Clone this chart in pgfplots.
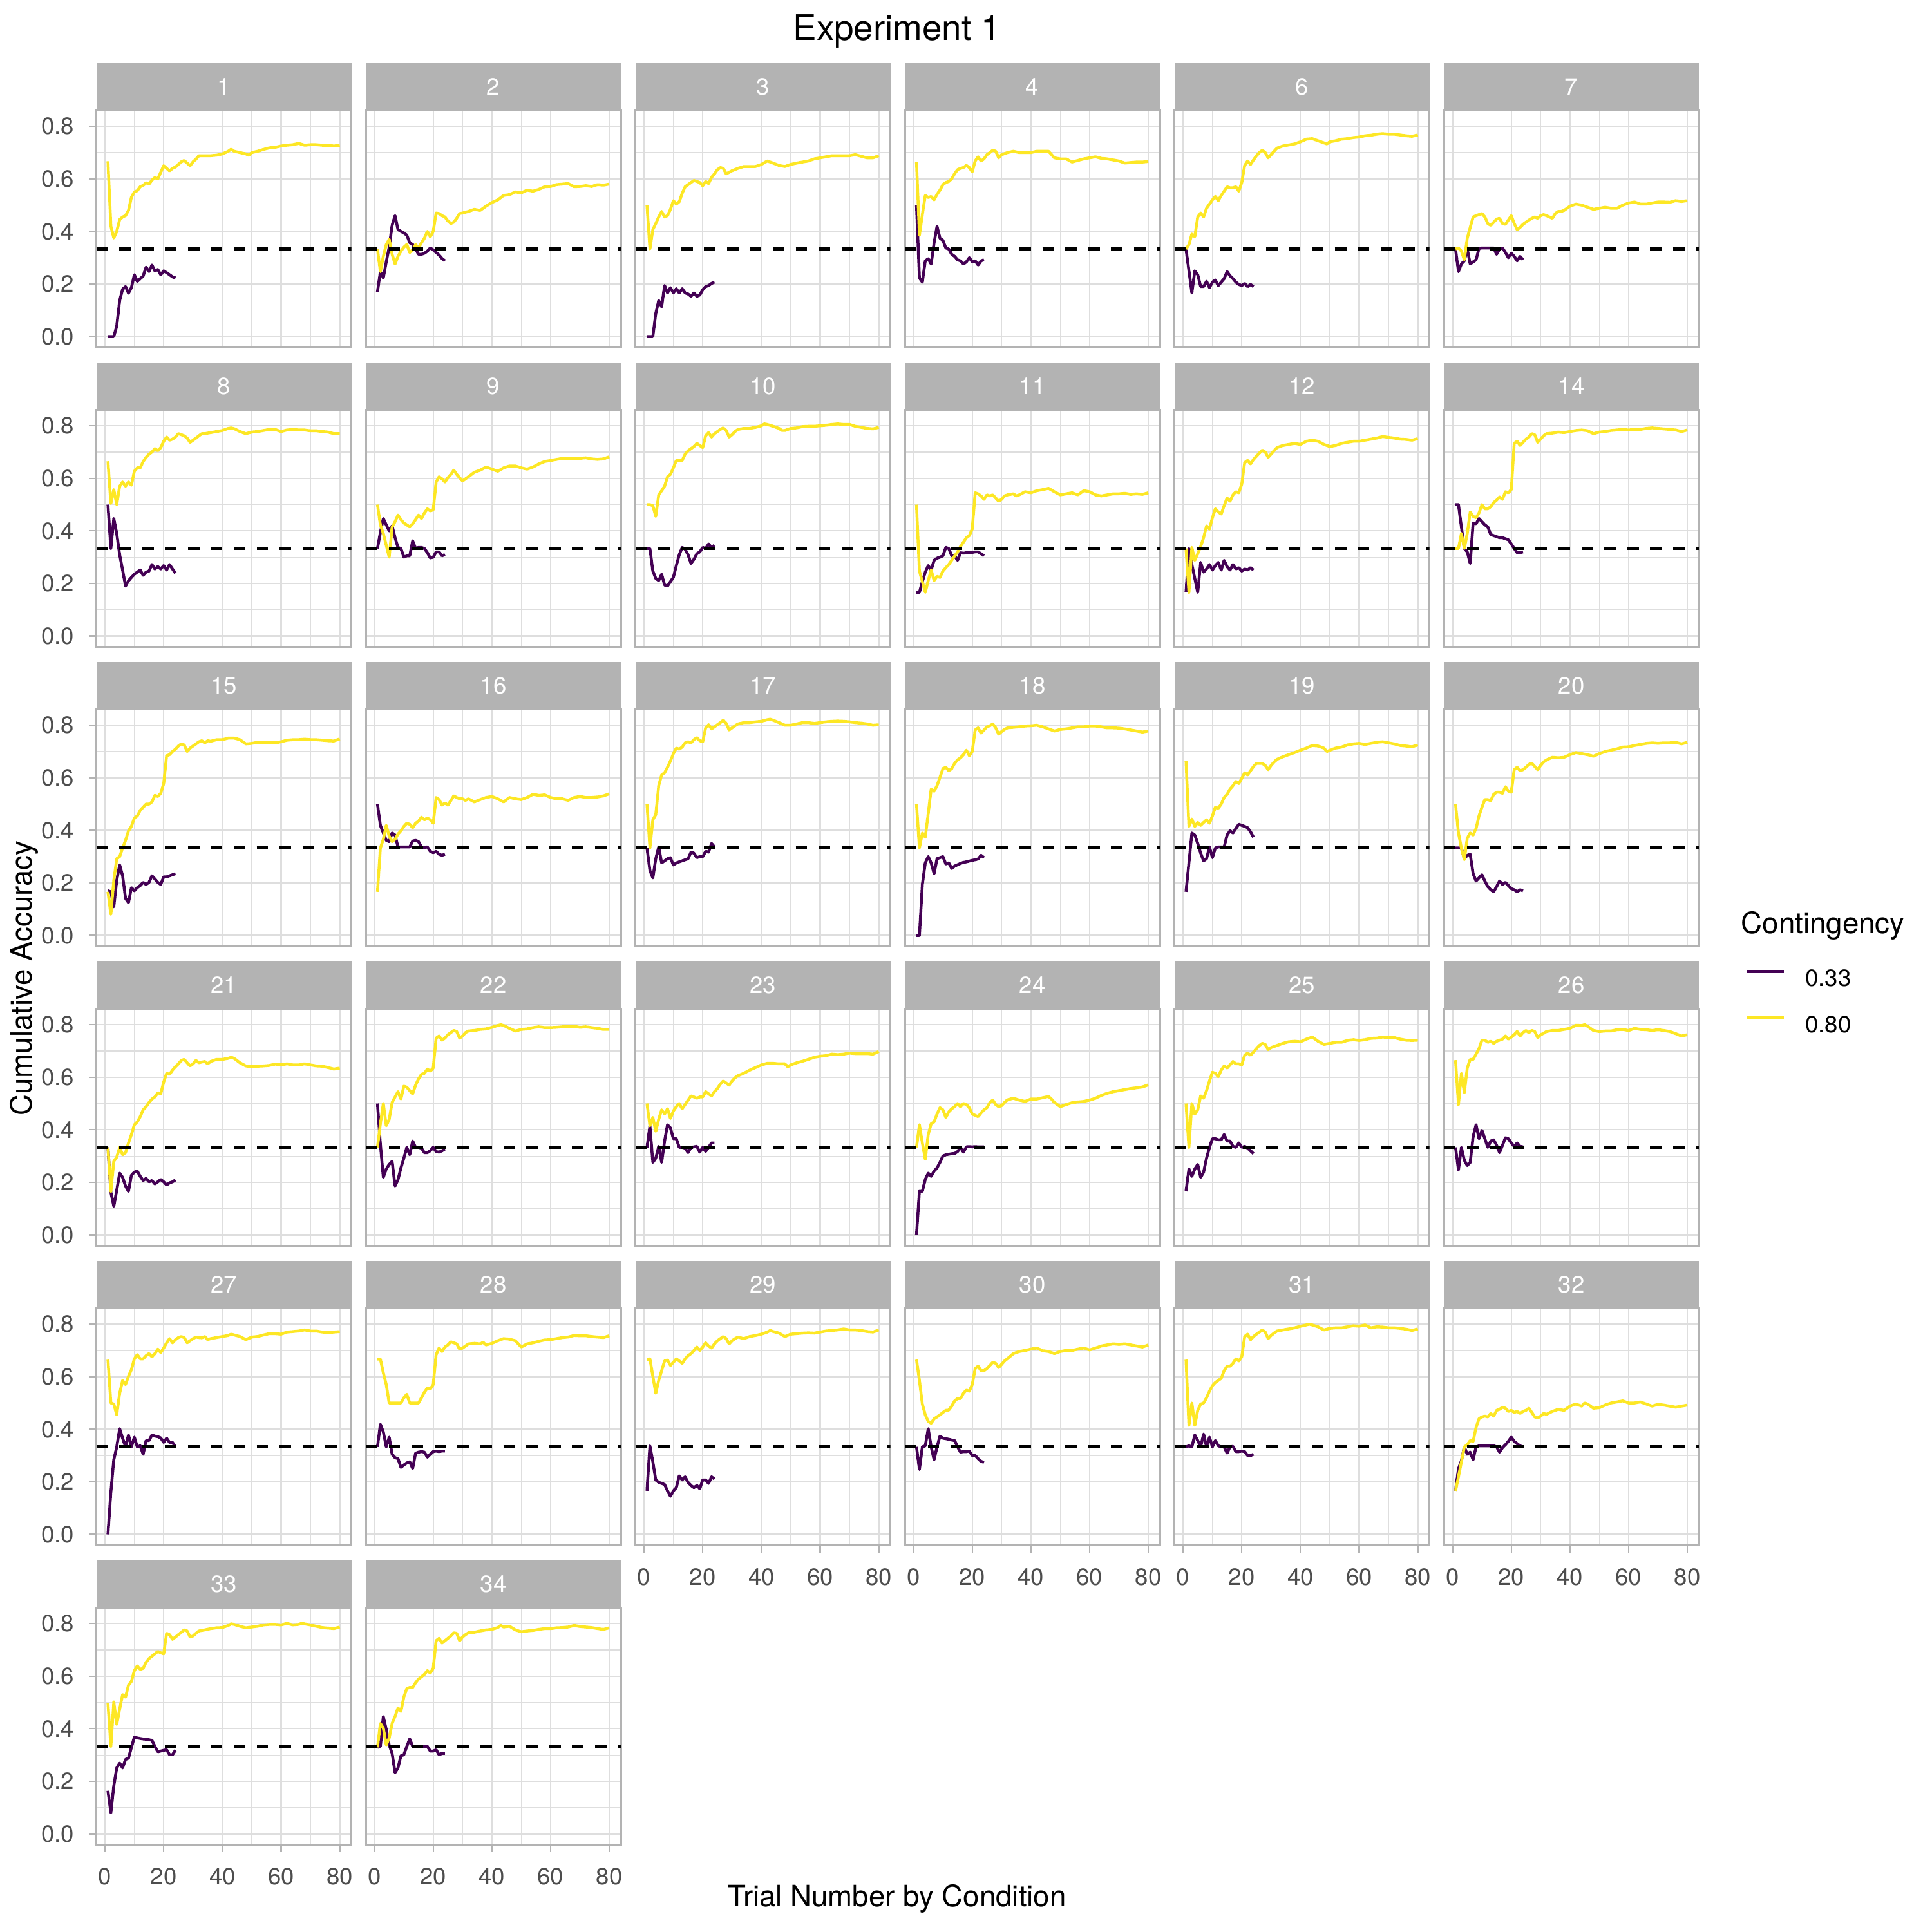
\documentclass[border=0pt]{standalone}
\usepackage{fontspec}
\setmainfont{TeX Gyre Heros}
\usepackage{pgfplots}
\pgfplotsset{compat=1.18}
\definecolor{vpurple}{HTML}{440154}
\definecolor{vyellow}{HTML}{FDE725}
\definecolor{grey70}{HTML}{B3B3B3}
\definecolor{grey87}{HTML}{DEDEDE}
\definecolor{grey30}{HTML}{4D4D4D}
\pgfplotsset{
 panel/.style={
  scale only axis, width=95.04bp, height=88.32bp, anchor=north west,
  xmin=-2.95, xmax=83.95, ymin=-0.041, ymax=0.861,
  xtick={0,20,40,60,80}, minor xtick={10,30,50,70},
  ytick={0,0.2,0.4,0.6,0.8}, minor ytick={0.1,0.3,0.5,0.7},
  xmajorgrids, ymajorgrids, xminorgrids, yminorgrids,
  major grid style={draw=grey87, line width=0.53bp},
  minor grid style={draw=grey87, line width=0.27bp},
  axis line style={draw=grey70, line width=0.8bp},
  tick align=outside, xtick pos=bottom, ytick pos=left,
  major tick length=2.74bp, minor tick length=0pt,
  tick style={draw=grey70, line width=0.53bp},
  tick label style={font=\fontsize{8.8}{10}\selectfont, text=grey30, inner sep=0pt},
  /pgf/number format/assume math mode=true,
  y tick label style={/pgf/number format/fixed, /pgf/number format/fixed zerofill, /pgf/number format/precision=1, anchor=east, xshift=-5.3bp},
  x tick label style={anchor=north, yshift=-5.8bp},
  every axis title/.style={at={(0.5,1)}, anchor=south, fill=grey70, text=white, minimum width=95.04bp, minimum height=17.52bp, inner sep=0pt, outer sep=0pt, font=\fontsize{8.8}{10}\selectfont},
 },
 nox/.style={xticklabels={}, xmajorticks=false},
 noy/.style={yticklabels={}, ymajorticks=false},
 pl/.style={color=vpurple, line width=1.07bp, line join=round},
 yl/.style={color=vyellow, line width=1.07bp, line join=round},
 dl/.style={black, line width=1.07bp, dash pattern=on 4.27bp off 4.27bp, forget plot},
 leg/.style={legend entries={0.33,0.80}, legend cell align=left,
   legend style={at={(1,0)}, anchor=west, xshift=17.28bp, yshift=-21.2bp, draw=none, fill=none, inner sep=0pt, row sep=9.6bp, column sep=7.4bp, font=\fontsize{8.8}{10}\selectfont, nodes={inner sep=0pt, text=black}}},
 legend image code/.code={\draw[#1, line width=1.1bp] (0bp,3.1bp) -- (13.7bp,3.1bp);},
}
\newcommand{\panel}[6]{%
 \begin{axis}[panel, at={(35.904bp+#1*100.44bp,678.888bp-#2*111.6bp)}, title={#3}, #4]
  \addplot[pl] coordinates {#5};
  \addplot[yl] coordinates {#6};
  \addplot[dl] coordinates {(-2.95,0.3333) (83.95,0.3333)};
 \end{axis}}
\begin{document}
\begin{tikzpicture}
\fill[white] (0,0) rectangle (720bp,720bp);
\path[use as bounding box] (0,0) rectangle (720bp,720bp);
% Row 0
\panel{0}{0}{1}{nox}{(1,0)(2,0)(3,0)(4,.04)(5,.137)(6,.18)(7,.19)(8,.165)(9,.186)(10,.235)(11,.21)(12,.22)(13,.23)(14,.264)(15,.247)(16,.272)(17,.25)(18,.255)(19,.235)(20,.25)(21,.243)(22,.235)(23,.227)(24,.223)}
{(1,.667)(2,.42)(3,.375)(4,.40)(5,.445)(6,.455)(7,.46)(8,.48)(9,.53)(10,.55)(11,.555)(12,.57)(13,.575)(14,.585)(15,.58)(16,.595)(17,.605)(18,.60)(19,.625)(20,.65)(21,.64)(22,.63)(23,.64)(24,.645)(25,.655)(26,.665)(27,.67)(28,.66)(29,.65)(30,.665)(31,.675)(32,.688)(34,.688)(36,.688)(38,.69)(40,.695)(42,.705)(43,.713)(44,.705)(46,.70)(48,.695)(49,.69)(50,.70)(52,.705)(54,.712)(56,.718)(58,.72)(60,.725)(62,.728)(64,.73)(66,.735)(68,.728)(70,.73)(72,.73)(74,.728)(76,.728)(78,.725)(80,.728)}
\panel{1}{0}{2}{nox,noy}{(1,.17)(2,.247)(3,.223)(4,.284)(5,.34)(6,.423)(7,.46)(8,.407)(9,.40)(10,.394)(11,.386)(12,.357)(13,.35)(14,.333)(15,.313)(16,.313)(17,.317)(18,.325)(19,.337)(20,.33)(21,.32)(22,.31)(23,.297)(24,.288)}
{(1,.333)(2,.247)(3,.305)(4,.35)(5,.37)(6,.313)(7,.276)(8,.305)(9,.325)(10,.34)(11,.35)(12,.32)(13,.33)(14,.35)(15,.337)(16,.357)(17,.374)(18,.40)(19,.38)(20,.40)(21,.47)(22,.468)(23,.46)(24,.455)(25,.44)(26,.43)(27,.435)(28,.45)(29,.468)(30,.47)(32,.476)(34,.484)(36,.48)(38,.496)(40,.51)(42,.52)(44,.537)(46,.54)(48,.55)(50,.547)(52,.557)(54,.553)(56,.56)(58,.57)(60,.571)(62,.578)(64,.58)(66,.582)(68,.57)(70,.571)(72,.574)(74,.571)(76,.578)(78,.576)(80,.58)}
\panel{2}{0}{3}{nox,noy}{(1,0)(2,0)(3,0)(4,.088)(5,.137)(6,.113)(7,.194)(8,.166)(9,.186)(10,.166)(11,.182)(12,.166)(13,.182)(14,.166)(15,.162)(16,.153)(17,.166)(18,.153)(19,.158)(20,.178)(21,.19)(22,.194)(23,.202)(24,.207)}
{(1,.50)(2,.333)(3,.407)(4,.43)(5,.455)(6,.476)(7,.455)(8,.46)(9,.484)(10,.517)(11,.504)(12,.513)(13,.545)(14,.57)(15,.578)(16,.586)(17,.594)(18,.59)(19,.586)(20,.574)(21,.59)(22,.582)(23,.606)(24,.619)(25,.635)(26,.643)(27,.64)(28,.619)(30,.631)(32,.64)(34,.647)(36,.647)(38,.647)(40,.655)(42,.668)(44,.66)(46,.651)(48,.647)(50,.655)(52,.66)(54,.664)(56,.668)(58,.676)(60,.68)(62,.684)(64,.688)(66,.688)(68,.688)(70,.688)(72,.692)(74,.686)(76,.68)(78,.68)(80,.688)}
\panel{3}{0}{4}{nox,noy}{(1,.50)(2,.223)(3,.207)(4,.288)(5,.296)(6,.276)(7,.357)(8,.419)(9,.374)(10,.366)(11,.337)(12,.333)(13,.313)(14,.305)(15,.292)(16,.288)(17,.276)(18,.284)(19,.30)(20,.284)(21,.288)(22,.272)(23,.288)(24,.292)}
{(1,.665)(2,.386)(3,.464)(4,.537)(5,.529)(6,.533)(7,.52)(8,.541)(9,.557)(10,.578)(11,.586)(12,.59)(13,.60)(14,.62)(15,.635)(16,.64)(17,.643)(18,.651)(19,.643)(20,.627)(21,.668)(22,.684)(23,.668)(24,.676)(25,.692)(26,.70)(27,.709)(28,.705)(29,.68)(30,.692)(32,.70)(34,.705)(36,.70)(38,.70)(40,.70)(42,.705)(44,.705)(46,.705)(48,.68)(50,.676)(52,.676)(54,.664)(56,.67)(58,.676)(60,.68)(62,.684)(64,.678)(66,.676)(68,.672)(70,.668)(72,.66)(74,.662)(76,.664)(78,.664)(80,.666)}
\panel{4}{0}{6}{nox,noy}{(1,.333)(2,.25)(3,.166)(4,.25)(5,.235)(6,.19)(7,.19)(8,.21)(9,.186)(10,.207)(11,.215)(12,.194)(13,.207)(14,.22)(15,.247)(16,.231)(17,.22)(18,.207)(19,.198)(20,.194)(21,.202)(22,.19)(23,.198)(24,.19)}
{(1,.333)(2,.35)(3,.39)(4,.38)(5,.455)(6,.47)(7,.455)(8,.488)(9,.504)(10,.52)(11,.533)(12,.517)(13,.537)(14,.553)(15,.57)(16,.566)(17,.566)(18,.57)(19,.553)(20,.586)(21,.651)(22,.668)(23,.655)(24,.672)(25,.688)(26,.70)(27,.709)(28,.70)(29,.68)(30,.692)(31,.705)(32,.717)(34,.725)(36,.729)(38,.733)(40,.741)(42,.751)(44,.753)(46,.745)(48,.737)(49,.733)(50,.741)(52,.745)(54,.751)(56,.753)(58,.757)(60,.759)(62,.764)(64,.766)(66,.77)(68,.772)(70,.77)(72,.77)(74,.767)(76,.764)(78,.762)(80,.767)}
\panel{5}{0}{7}{nox,noy}{(1,.333)(2,.247)(3,.276)(4,.288)(5,.333)(6,.276)(7,.284)(8,.292)(9,.335)(10,.337)(11,.337)(12,.337)(13,.337)(14,.337)(15,.313)(16,.333)(17,.337)(18,.32)(19,.30)(20,.317)(21,.305)(22,.288)(23,.305)(24,.292)}
{(1,.333)(2,.337)(3,.325)(4,.292)(5,.374)(6,.415)(7,.455)(8,.46)(9,.464)(10,.468)(11,.455)(12,.43)(13,.423)(14,.435)(15,.447)(16,.45)(17,.43)(18,.427)(19,.443)(20,.46)(21,.43)(22,.407)(23,.415)(24,.427)(25,.435)(26,.443)(27,.45)(28,.455)(29,.45)(30,.46)(31,.464)(32,.46)(33,.455)(34,.45)(35,.468)(36,.476)(37,.476)(38,.48)(39,.488)(40,.496)(42,.504)(44,.50)(46,.492)(48,.484)(50,.488)(52,.492)(54,.488)(56,.488)(58,.50)(60,.508)(62,.512)(64,.504)(66,.504)(68,.508)(70,.512)(72,.512)(74,.511)(76,.517)(78,.514)(80,.517)}
% Row 1
\panel{0}{1}{8}{nox}{(1,.50)(2,.333)(3,.447)(4,.39)(5,.309)(6,.251)(7,.19)(8,.21)(9,.223)(10,.235)(11,.243)(12,.251)(13,.231)(14,.243)(15,.247)(16,.272)(17,.255)(18,.264)(19,.255)(20,.268)(21,.251)(22,.272)(23,.255)(24,.239)}
{(1,.665)(2,.504)(3,.557)(4,.50)(5,.57)(6,.586)(7,.57)(8,.586)(9,.574)(10,.627)(11,.64)(12,.64)(13,.664)(14,.68)(15,.692)(16,.70)(17,.713)(18,.705)(19,.717)(20,.741)(21,.757)(22,.745)(23,.749)(24,.757)(25,.77)(26,.766)(27,.762)(28,.753)(29,.737)(30,.745)(31,.753)(32,.762)(33,.77)(34,.77)(36,.774)(38,.778)(40,.782)(42,.79)(43,.792)(44,.789)(46,.778)(48,.77)(50,.776)(52,.778)(54,.782)(56,.786)(58,.786)(60,.778)(62,.784)(64,.786)(66,.784)(68,.784)(70,.781)(72,.781)(74,.778)(76,.776)(78,.77)(80,.77)}
\panel{1}{1}{9}{nox,noy}{(1,.333)(2,.394)(3,.447)(4,.423)(5,.40)(6,.419)(7,.374)(8,.337)(9,.333)(10,.30)(11,.305)(12,.305)(13,.362)(14,.333)(15,.337)(16,.337)(17,.333)(18,.317)(19,.297)(20,.30)(21,.32)(22,.32)(23,.305)(24,.31)}
{(1,.50)(2,.423)(3,.39)(4,.345)(5,.30)(6,.415)(7,.435)(8,.46)(9,.443)(10,.43)(11,.423)(12,.415)(13,.427)(14,.443)(15,.46)(16,.447)(17,.468)(18,.484)(19,.476)(20,.48)(21,.586)(22,.606)(23,.598)(24,.586)(25,.602)(26,.615)(27,.631)(28,.615)(29,.602)(30,.59)(31,.598)(32,.606)(34,.623)(36,.631)(38,.643)(40,.635)(42,.627)(44,.64)(46,.647)(48,.647)(50,.64)(52,.635)(54,.643)(56,.655)(58,.664)(60,.668)(62,.672)(64,.676)(66,.676)(68,.676)(70,.676)(72,.678)(74,.674)(76,.672)(78,.674)(80,.682)}
\panel{2}{1}{10}{nox,noy}{(1,.333)(2,.333)(3,.247)(4,.219)(5,.211)(6,.235)(7,.194)(8,.19)(9,.207)(10,.223)(11,.268)(12,.309)(13,.337)(14,.33)(15,.309)(16,.276)(17,.292)(18,.313)(19,.32)(20,.337)(21,.333)(22,.35)(23,.337)(24,.345)}
{(1,.50)(2,.50)(3,.496)(4,.455)(5,.537)(6,.553)(7,.57)(8,.606)(9,.615)(10,.64)(11,.668)(12,.668)(13,.668)(14,.692)(15,.705)(16,.713)(17,.721)(18,.733)(19,.725)(20,.717)(21,.762)(22,.774)(23,.757)(24,.77)(25,.778)(26,.786)(27,.792)(28,.782)(29,.757)(30,.766)(31,.778)(32,.786)(34,.79)(36,.79)(38,.794)(40,.80)(41,.807)(42,.805)(44,.798)(46,.79)(47,.782)(48,.782)(50,.79)(52,.792)(54,.797)(56,.798)(58,.798)(60,.80)(62,.802)(64,.805)(66,.807)(68,.805)(70,.805)(72,.798)(74,.794)(76,.79)(78,.788)(80,.794)}
\panel{3}{1}{11}{nox,noy}{(1,.166)(2,.166)(3,.207)(4,.243)(5,.268)(6,.251)(7,.288)(8,.296)(9,.30)(10,.305)(11,.337)(12,.333)(13,.305)(14,.305)(15,.288)(16,.317)(17,.315)(18,.317)(19,.317)(20,.318)(21,.32)(22,.32)(23,.313)(24,.305)}
{(1,.50)(2,.247)(3,.207)(4,.166)(5,.211)(6,.251)(7,.211)(8,.227)(9,.223)(10,.247)(11,.26)(12,.272)(13,.288)(14,.305)(15,.32)(16,.341)(17,.357)(18,.374)(19,.382)(20,.407)(21,.545)(22,.541)(23,.533)(24,.52)(25,.537)(26,.533)(27,.537)(28,.525)(29,.513)(30,.52)(31,.533)(32,.537)(34,.541)(35,.533)(36,.537)(38,.549)(40,.545)(42,.553)(44,.557)(46,.562)(48,.549)(50,.537)(52,.541)(54,.545)(56,.537)(58,.553)(60,.549)(62,.537)(64,.533)(66,.537)(68,.541)(70,.541)(72,.543)(74,.539)(76,.541)(78,.539)(80,.545)}
\panel{4}{1}{12}{nox,noy}{(1,.166)(2,.333)(3,.272)(4,.219)(5,.166)(6,.28)(7,.243)(8,.255)(9,.272)(10,.251)(11,.268)(12,.28)(13,.251)(14,.288)(15,.264)(16,.251)(17,.272)(18,.255)(19,.26)(20,.247)(21,.255)(22,.251)(23,.26)(24,.251)}
{(1,.333)(2,.166)(3,.337)(4,.288)(5,.313)(6,.341)(7,.374)(8,.419)(9,.407)(10,.45)(11,.484)(12,.472)(13,.464)(14,.496)(15,.525)(16,.513)(17,.537)(18,.549)(19,.545)(20,.578)(21,.66)(22,.668)(23,.655)(24,.672)(25,.684)(26,.696)(27,.707)(28,.70)(29,.68)(30,.692)(31,.705)(32,.717)(34,.725)(36,.729)(38,.733)(40,.729)(42,.741)(44,.745)(46,.741)(48,.729)(50,.721)(52,.725)(54,.733)(56,.737)(58,.741)(60,.741)(62,.745)(64,.749)(66,.753)(68,.759)(70,.756)(72,.753)(74,.749)(76,.748)(78,.745)(80,.751)}
\panel{5}{1}{14}{nox,noy}{(1,.50)(2,.50)(3,.415)(4,.333)(5,.32)(6,.276)(7,.43)(8,.427)(9,.447)(10,.435)(11,.423)(12,.415)(13,.386)(14,.382)(15,.378)(16,.374)(17,.374)(18,.37)(19,.366)(20,.35)(21,.333)(22,.317)(23,.317)(24,.32)}
{(1,.333)(2,.333)(3,.39)(4,.333)(5,.39)(6,.472)(7,.455)(8,.45)(9,.468)(10,.50)(11,.484)(12,.484)(13,.492)(14,.508)(15,.517)(16,.529)(17,.52)(18,.549)(19,.545)(20,.557)(21,.733)(22,.741)(23,.725)(24,.737)(25,.749)(26,.757)(27,.77)(28,.766)(29,.737)(30,.749)(31,.762)(32,.77)(34,.772)(36,.776)(38,.774)(40,.778)(42,.782)(44,.784)(46,.781)(48,.77)(50,.776)(52,.778)(54,.782)(56,.784)(58,.786)(60,.784)(62,.786)(64,.786)(66,.79)(68,.792)(70,.79)(72,.788)(74,.786)(76,.784)(78,.778)(80,.784)}
% Row 2
\panel{0}{2}{15}{nox}{(1,.17)(2,.166)(3,.109)(4,.21)(5,.268)(6,.227)(7,.141)(8,.125)(9,.182)(10,.17)(11,.182)(12,.19)(13,.202)(14,.194)(15,.202)(16,.227)(17,.215)(18,.202)(19,.194)(20,.223)(21,.223)(22,.227)(23,.231)(24,.235)}
{(1,.166)(2,.08)(3,.21)(4,.292)(5,.30)(6,.333)(7,.362)(8,.398)(9,.415)(10,.447)(11,.455)(12,.476)(13,.488)(14,.50)(15,.50)(16,.508)(17,.533)(18,.529)(19,.541)(20,.578)(21,.684)(22,.688)(23,.70)(24,.709)(25,.721)(26,.729)(27,.725)(28,.70)(29,.713)(30,.721)(31,.729)(32,.737)(33,.741)(34,.733)(35,.741)(36,.739)(38,.745)(40,.745)(42,.751)(44,.751)(46,.745)(48,.729)(50,.731)(52,.735)(54,.735)(56,.735)(58,.733)(60,.737)(62,.743)(64,.745)(66,.745)(68,.747)(70,.745)(72,.745)(74,.743)(76,.741)(78,.74)(80,.748)}
\panel{1}{2}{16}{nox,noy}{(1,.50)(2,.419)(3,.39)(4,.362)(5,.357)(6,.39)(7,.382)(8,.337)(9,.337)(10,.337)(11,.337)(12,.337)(13,.359)(14,.362)(15,.357)(16,.337)(17,.335)(18,.337)(19,.32)(20,.315)(21,.32)(22,.309)(23,.305)(24,.309)}
{(1,.166)(2,.333)(3,.366)(4,.419)(5,.378)(6,.357)(7,.366)(8,.386)(9,.398)(10,.415)(11,.427)(12,.423)(13,.41)(14,.427)(15,.435)(16,.45)(17,.44)(18,.447)(19,.44)(20,.427)(21,.525)(22,.517)(23,.496)(24,.504)(25,.496)(26,.513)(27,.531)(28,.525)(29,.52)(30,.52)(31,.514)(32,.52)(34,.508)(36,.517)(38,.525)(40,.529)(42,.52)(44,.508)(46,.525)(48,.52)(50,.517)(52,.525)(54,.537)(56,.533)(58,.535)(60,.525)(62,.52)(64,.52)(66,.514)(68,.525)(70,.529)(72,.525)(74,.525)(76,.527)(78,.531)(80,.539)}
\panel{2}{2}{17}{nox,noy}{(1,.333)(2,.247)(3,.219)(4,.292)(5,.337)(6,.276)(7,.284)(8,.292)(9,.296)(10,.268)(11,.276)(12,.28)(13,.284)(14,.288)(15,.292)(16,.317)(17,.313)(18,.296)(19,.30)(20,.30)(21,.32)(22,.317)(23,.35)(24,.337)}
{(1,.50)(2,.333)(3,.44)(4,.46)(5,.57)(6,.611)(7,.619)(8,.64)(9,.664)(10,.692)(11,.713)(12,.709)(13,.717)(14,.733)(15,.737)(16,.733)(17,.745)(18,.753)(19,.741)(20,.737)(21,.79)(22,.802)(23,.786)(24,.794)(25,.802)(26,.81)(27,.819)(28,.807)(29,.782)(30,.79)(31,.798)(32,.805)(34,.81)(36,.81)(38,.813)(40,.815)(42,.821)(43,.823)(44,.819)(46,.81)(48,.80)(50,.80)(52,.805)(54,.81)(56,.81)(58,.807)(60,.81)(62,.813)(64,.815)(66,.816)(68,.815)(70,.813)(72,.81)(74,.808)(76,.805)(78,.80)(80,.802)}
\panel{3}{2}{18}{nox,noy}{(1,0)(2,0)(3,.194)(4,.276)(5,.30)(6,.276)(7,.235)(8,.292)(9,.296)(10,.30)(11,.272)(12,.276)(13,.255)(14,.264)(15,.269)(16,.274)(17,.278)(18,.28)(19,.283)(20,.286)(21,.288)(22,.291)(23,.305)(24,.296)}
{(1,.50)(2,.333)(3,.39)(4,.374)(5,.464)(6,.557)(7,.549)(8,.57)(9,.602)(10,.635)(11,.64)(12,.627)(13,.635)(14,.655)(15,.668)(16,.676)(17,.688)(18,.705)(19,.684)(20,.70)(21,.782)(22,.79)(23,.77)(24,.782)(25,.794)(26,.798)(27,.805)(28,.79)(29,.766)(30,.776)(31,.784)(32,.79)(34,.792)(36,.794)(38,.797)(40,.798)(42,.80)(44,.794)(46,.786)(48,.778)(50,.784)(52,.786)(54,.79)(56,.794)(58,.794)(60,.797)(62,.797)(64,.794)(66,.79)(68,.79)(70,.789)(72,.786)(74,.782)(76,.778)(78,.774)(80,.778)}
\panel{4}{2}{19}{nox,noy}{(1,.166)(2,.276)(3,.39)(4,.382)(5,.35)(6,.313)(7,.284)(8,.292)(9,.337)(10,.296)(11,.333)(12,.337)(13,.337)(14,.337)(15,.382)(16,.398)(17,.39)(18,.407)(19,.423)(20,.419)(21,.415)(22,.41)(23,.394)(24,.374)}
{(1,.665)(2,.415)(3,.443)(4,.415)(5,.43)(6,.419)(7,.43)(8,.44)(9,.427)(10,.455)(11,.488)(12,.484)(13,.50)(14,.525)(15,.537)(16,.557)(17,.57)(18,.586)(19,.578)(20,.598)(21,.619)(22,.611)(23,.627)(24,.643)(25,.655)(26,.655)(27,.655)(28,.647)(29,.631)(30,.647)(31,.66)(32,.67)(34,.68)(36,.688)(38,.696)(40,.705)(42,.713)(44,.723)(46,.721)(48,.713)(49,.70)(50,.705)(52,.713)(54,.717)(56,.725)(58,.729)(60,.731)(62,.727)(64,.731)(66,.735)(68,.737)(70,.733)(72,.729)(74,.723)(76,.721)(78,.718)(80,.725)}
\panel{5}{2}{20}{nox,noy,leg}{(1,.333)(2,.333)(3,.333)(4,.292)(5,.305)(6,.309)(7,.235)(8,.207)(9,.219)(10,.231)(11,.207)(12,.186)(13,.174)(14,.166)(15,.186)(16,.207)(17,.194)(18,.202)(19,.19)(20,.178)(21,.174)(22,.166)(23,.174)(24,.17)}
{(1,.50)(2,.39)(3,.333)(4,.288)(5,.37)(6,.39)(7,.382)(8,.407)(9,.455)(10,.488)(11,.517)(12,.517)(13,.513)(14,.537)(15,.545)(16,.545)(17,.541)(18,.566)(19,.549)(20,.545)(21,.631)(22,.64)(23,.627)(24,.631)(25,.64)(26,.651)(27,.655)(28,.643)(29,.631)(30,.647)(31,.66)(32,.668)(34,.678)(36,.676)(38,.678)(40,.688)(42,.696)(44,.692)(46,.688)(48,.682)(50,.692)(52,.70)(54,.705)(56,.71)(58,.717)(60,.718)(62,.723)(64,.727)(66,.731)(68,.733)(70,.731)(72,.733)(74,.733)(76,.735)(78,.729)(80,.735)}
% Row 3
\panel{0}{3}{21}{nox}{(1,.333)(2,.162)(3,.109)(4,.17)(5,.235)(6,.219)(7,.186)(8,.166)(9,.227)(10,.239)(11,.243)(12,.223)(13,.207)(14,.215)(15,.202)(16,.207)(17,.194)(18,.202)(19,.211)(20,.202)(21,.19)(22,.198)(23,.202)(24,.209)}
{(1,.333)(2,.166)(3,.28)(4,.296)(5,.333)(6,.305)(7,.313)(8,.35)(9,.382)(10,.419)(11,.43)(12,.45)(13,.476)(14,.488)(15,.504)(16,.517)(17,.525)(18,.541)(19,.537)(20,.582)(21,.615)(22,.611)(23,.627)(24,.64)(25,.651)(26,.664)(27,.668)(28,.655)(29,.643)(30,.651)(31,.664)(32,.655)(33,.658)(34,.66)(35,.651)(36,.66)(38,.668)(40,.668)(42,.672)(43,.676)(44,.672)(46,.655)(48,.643)(50,.64)(52,.642)(54,.643)(56,.645)(58,.65)(60,.647)(62,.651)(64,.647)(66,.647)(68,.651)(70,.647)(72,.643)(74,.642)(76,.637)(78,.631)(80,.635)}
\panel{1}{3}{22}{nox,noy}{(1,.50)(2,.345)(3,.219)(4,.251)(5,.268)(6,.28)(7,.186)(8,.21)(9,.255)(10,.292)(11,.333)(12,.305)(13,.357)(14,.333)(15,.333)(16,.33)(17,.313)(18,.313)(19,.32)(20,.333)(21,.317)(22,.315)(23,.32)(24,.327)}
{(1,.333)(2,.423)(3,.50)(4,.415)(5,.44)(6,.504)(7,.525)(8,.545)(9,.517)(10,.566)(11,.562)(12,.549)(13,.537)(14,.57)(15,.594)(16,.611)(17,.615)(18,.631)(19,.623)(20,.635)(21,.749)(22,.757)(23,.741)(24,.749)(25,.762)(26,.77)(27,.778)(28,.774)(29,.749)(30,.757)(31,.77)(32,.776)(34,.778)(36,.782)(38,.784)(40,.79)(42,.797)(43,.80)(44,.797)(46,.786)(48,.776)(50,.782)(52,.784)(54,.789)(56,.792)(58,.789)(60,.789)(62,.79)(64,.792)(66,.794)(68,.794)(70,.79)(72,.792)(74,.789)(76,.786)(78,.782)(80,.782)}
\panel{2}{3}{23}{nox,noy}{(1,.333)(2,.415)(3,.276)(4,.292)(5,.337)(6,.276)(7,.357)(8,.419)(9,.407)(10,.366)(11,.366)(12,.333)(13,.333)(14,.33)(15,.313)(16,.333)(17,.335)(18,.337)(19,.315)(20,.333)(21,.318)(22,.333)(23,.35)(24,.35)}
{(1,.50)(2,.415)(3,.447)(4,.394)(5,.44)(6,.476)(7,.46)(8,.48)(9,.443)(10,.472)(11,.488)(12,.50)(13,.48)(14,.496)(15,.513)(16,.529)(17,.525)(18,.52)(19,.525)(20,.525)(21,.545)(22,.537)(23,.529)(24,.545)(25,.557)(26,.574)(27,.586)(28,.578)(29,.57)(30,.586)(31,.598)(32,.606)(34,.615)(36,.627)(38,.637)(40,.647)(42,.653)(44,.653)(46,.651)(48,.651)(49,.64)(50,.647)(52,.655)(54,.661)(56,.668)(58,.676)(60,.68)(62,.682)(64,.688)(66,.686)(68,.688)(70,.692)(72,.69)(74,.69)(76,.69)(78,.688)(80,.698)}
\panel{3}{3}{24}{nox,noy}{(1,0)(2,.166)(3,.166)(4,.211)(5,.235)(6,.223)(7,.243)(8,.255)(9,.276)(10,.30)(11,.305)(12,.307)(13,.309)(14,.31)(15,.317)(16,.333)(17,.315)(18,.335)(19,.336)(20,.335)(21,.336)(22,.335)(23,.335)(24,.335)}
{(1,.333)(2,.419)(3,.35)(4,.288)(5,.382)(6,.423)(7,.43)(8,.46)(9,.484)(10,.476)(11,.447)(12,.468)(13,.48)(14,.488)(15,.50)(16,.488)(17,.50)(18,.496)(19,.484)(20,.46)(21,.455)(22,.45)(23,.464)(24,.476)(25,.484)(26,.504)(27,.513)(28,.496)(29,.488)(30,.492)(31,.504)(32,.514)(34,.52)(36,.513)(38,.508)(40,.517)(42,.517)(44,.522)(46,.527)(47,.517)(48,.504)(50,.488)(52,.496)(54,.503)(56,.506)(58,.508)(60,.513)(62,.52)(64,.531)(66,.539)(68,.545)(70,.549)(72,.553)(74,.557)(76,.56)(78,.563)(80,.571)}
\panel{4}{3}{25}{nox,noy}{(1,.166)(2,.251)(3,.223)(4,.251)(5,.268)(6,.219)(7,.239)(8,.292)(9,.333)(10,.366)(11,.366)(12,.362)(13,.362)(14,.382)(15,.357)(16,.357)(17,.337)(18,.333)(19,.35)(20,.333)(21,.337)(22,.33)(23,.32)(24,.309)}
{(1,.50)(2,.333)(3,.50)(4,.46)(5,.476)(6,.529)(7,.52)(8,.549)(9,.586)(10,.619)(11,.615)(12,.602)(13,.627)(14,.643)(15,.635)(16,.647)(17,.66)(18,.651)(19,.651)(20,.647)(21,.684)(22,.692)(23,.684)(24,.696)(25,.709)(26,.721)(27,.729)(28,.725)(29,.705)(30,.713)(31,.717)(32,.721)(34,.729)(36,.735)(38,.737)(40,.735)(42,.745)(44,.753)(46,.737)(48,.725)(50,.729)(52,.733)(54,.733)(56,.74)(58,.743)(60,.74)(62,.743)(64,.748)(66,.749)(68,.753)(70,.751)(72,.751)(74,.745)(76,.741)(78,.74)(80,.741)}
\panel{5}{3}{26}{nox,noy}{(1,.333)(2,.247)(3,.333)(4,.284)(5,.264)(6,.276)(7,.374)(8,.419)(9,.366)(10,.398)(11,.366)(12,.333)(13,.357)(14,.362)(15,.341)(16,.313)(17,.341)(18,.37)(19,.366)(20,.35)(21,.337)(22,.35)(23,.337)(24,.335)}
{(1,.665)(2,.496)(3,.615)(4,.541)(5,.635)(6,.668)(7,.668)(8,.688)(9,.709)(10,.741)(11,.741)(12,.733)(13,.737)(14,.729)(15,.737)(16,.741)(17,.745)(18,.757)(19,.745)(20,.753)(21,.762)(22,.774)(23,.757)(24,.77)(25,.778)(26,.77)(27,.778)(28,.774)(29,.751)(30,.762)(31,.767)(32,.774)(34,.778)(36,.778)(38,.782)(40,.786)(42,.798)(44,.797)(45,.80)(46,.794)(48,.778)(50,.774)(52,.776)(54,.776)(56,.781)(58,.782)(60,.778)(62,.786)(64,.782)(66,.781)(68,.778)(70,.781)(72,.778)(74,.774)(76,.766)(78,.757)(80,.762)}
% Row 4
\panel{0}{4}{27}{nox}{(1,0)(2,.162)(3,.284)(4,.333)(5,.402)(6,.366)(7,.333)(8,.378)(9,.333)(10,.37)(11,.333)(12,.337)(13,.305)(14,.357)(15,.357)(16,.378)(17,.374)(18,.372)(19,.367)(20,.35)(21,.366)(22,.35)(23,.35)(24,.333)}
{(1,.665)(2,.50)(3,.496)(4,.455)(5,.537)(6,.586)(7,.57)(8,.602)(9,.627)(10,.668)(11,.684)(12,.668)(13,.668)(14,.68)(15,.688)(16,.676)(17,.688)(18,.705)(19,.692)(20,.709)(21,.729)(22,.745)(23,.729)(24,.741)(25,.749)(26,.753)(27,.749)(28,.729)(29,.737)(30,.745)(31,.751)(32,.749)(33,.748)(34,.753)(35,.741)(36,.745)(38,.749)(40,.753)(42,.757)(43,.762)(44,.759)(46,.753)(48,.741)(50,.751)(52,.753)(54,.759)(56,.764)(58,.764)(60,.762)(62,.77)(64,.772)(66,.774)(68,.778)(70,.774)(72,.774)(74,.77)(76,.768)(78,.77)(80,.772)}
\panel{1}{4}{28}{nox,noy}{(1,.333)(2,.419)(3,.39)(4,.333)(5,.37)(6,.305)(7,.292)(8,.288)(9,.255)(10,.264)(11,.272)(12,.276)(13,.251)(14,.309)(15,.313)(16,.315)(17,.313)(18,.294)(19,.305)(20,.315)(21,.317)(22,.315)(23,.317)(24,.317)}
{(1,.667)(2,.667)(3,.615)(4,.57)(5,.50)(6,.50)(7,.50)(8,.50)(9,.50)(10,.52)(11,.533)(12,.50)(13,.50)(14,.50)(15,.50)(16,.52)(17,.541)(18,.557)(19,.553)(20,.57)(21,.684)(22,.709)(23,.696)(24,.713)(25,.721)(26,.733)(27,.729)(28,.725)(29,.705)(30,.709)(31,.717)(32,.725)(34,.727)(36,.725)(37,.731)(38,.721)(40,.727)(42,.737)(44,.745)(46,.743)(48,.737)(50,.713)(52,.725)(54,.729)(56,.735)(58,.74)(60,.741)(62,.745)(64,.749)(66,.751)(68,.757)(70,.756)(72,.756)(74,.753)(76,.751)(78,.749)(80,.756)}
\panel{2}{4}{29}{noy}{(1,.166)(2,.337)(3,.276)(4,.207)(5,.198)(6,.194)(7,.19)(8,.166)(9,.145)(10,.166)(11,.178)(12,.223)(13,.207)(14,.219)(15,.198)(16,.186)(17,.178)(18,.186)(19,.174)(20,.207)(21,.207)(22,.194)(23,.219)(24,.211)}
{(1,.665)(2,.668)(3,.602)(4,.537)(5,.586)(6,.623)(7,.66)(8,.664)(9,.643)(10,.655)(11,.668)(12,.66)(13,.651)(14,.668)(15,.68)(16,.688)(17,.70)(18,.713)(19,.70)(20,.713)(21,.729)(22,.717)(23,.709)(24,.725)(25,.737)(26,.745)(27,.753)(28,.745)(29,.725)(30,.737)(31,.745)(32,.751)(34,.745)(36,.753)(38,.757)(40,.762)(42,.77)(43,.776)(44,.772)(46,.766)(48,.753)(50,.762)(52,.764)(54,.766)(56,.767)(58,.766)(60,.77)(62,.774)(64,.776)(66,.778)(68,.782)(70,.778)(72,.778)(74,.776)(76,.772)(78,.77)(80,.778)}
\panel{3}{4}{30}{noy}{(1,.333)(2,.247)(3,.333)(4,.337)(5,.402)(6,.333)(7,.284)(8,.333)(9,.374)(10,.366)(11,.364)(12,.362)(13,.359)(14,.357)(15,.333)(16,.313)(17,.315)(18,.315)(19,.317)(20,.30)(21,.30)(22,.288)(23,.278)(24,.274)}
{(1,.665)(2,.586)(3,.496)(4,.455)(5,.43)(6,.423)(7,.44)(8,.447)(9,.455)(10,.464)(11,.472)(12,.473)(13,.488)(14,.508)(15,.517)(16,.517)(17,.537)(18,.549)(19,.545)(20,.57)(21,.631)(22,.64)(23,.623)(24,.623)(25,.631)(26,.643)(27,.655)(28,.651)(29,.635)(30,.647)(31,.66)(32,.669)(34,.688)(36,.696)(38,.70)(40,.705)(42,.709)(44,.699)(46,.696)(48,.688)(50,.696)(52,.70)(54,.70)(56,.705)(58,.709)(60,.702)(62,.709)(64,.717)(66,.721)(68,.725)(70,.723)(72,.725)(74,.721)(76,.717)(78,.713)(80,.721)}
\panel{4}{4}{31}{noy}{(1,.333)(2,.337)(3,.333)(4,.378)(5,.357)(6,.333)(7,.382)(8,.333)(9,.37)(10,.333)(11,.357)(12,.337)(13,.333)(14,.333)(15,.309)(16,.333)(17,.335)(18,.315)(19,.315)(20,.317)(21,.315)(22,.30)(23,.30)(24,.305)}
{(1,.665)(2,.415)(3,.50)(4,.415)(5,.472)(6,.496)(7,.50)(8,.52)(9,.545)(10,.566)(11,.578)(12,.586)(13,.594)(14,.623)(15,.64)(16,.64)(17,.651)(18,.668)(19,.66)(20,.676)(21,.753)(22,.762)(23,.741)(24,.753)(25,.762)(26,.77)(27,.778)(28,.77)(29,.745)(30,.757)(31,.766)(32,.774)(34,.778)(36,.782)(38,.786)(40,.792)(42,.797)(43,.80)(44,.797)(46,.79)(48,.778)(50,.784)(52,.786)(54,.786)(56,.79)(58,.794)(60,.792)(62,.797)(64,.786)(66,.79)(68,.789)(70,.786)(72,.786)(74,.784)(76,.781)(78,.776)(80,.782)}
\panel{5}{4}{32}{noy}{(1,.166)(2,.25)(3,.28)(4,.333)(5,.305)(6,.313)(7,.284)(8,.333)(9,.337)(10,.337)(11,.337)(12,.337)(13,.337)(14,.337)(15,.333)(16,.313)(17,.33)(18,.341)(19,.354)(20,.37)(21,.354)(22,.345)(23,.337)(24,.333)}
{(1,.166)(2,.219)(3,.276)(4,.333)(5,.341)(6,.357)(7,.354)(8,.407)(9,.44)(10,.447)(11,.45)(12,.447)(13,.46)(14,.45)(15,.472)(16,.476)(17,.484)(18,.48)(19,.468)(20,.472)(21,.464)(22,.468)(23,.46)(24,.468)(25,.472)(26,.48)(27,.464)(28,.447)(29,.443)(30,.45)(31,.46)(32,.457)(34,.468)(36,.476)(38,.472)(40,.488)(42,.496)(44,.488)(45,.50)(46,.496)(48,.48)(50,.482)(52,.492)(54,.50)(56,.504)(58,.508)(60,.50)(62,.50)(64,.504)(66,.496)(68,.488)(70,.495)(72,.492)(74,.488)(76,.484)(78,.488)(80,.492)}
% Row 5
\panel{0}{5}{33}{}{(1,.164)(2,.08)(3,.183)(4,.251)(5,.269)(6,.251)(7,.283)(8,.288)(9,.329)(10,.368)(11,.365)(12,.363)(13,.361)(14,.36)(15,.358)(16,.356)(17,.333)(18,.312)(19,.315)(20,.318)(21,.32)(22,.301)(23,.301)(24,.318)}
{(1,.498)(2,.333)(3,.502)(4,.416)(5,.475)(6,.53)(7,.52)(8,.566)(9,.58)(10,.621)(11,.639)(12,.626)(13,.63)(14,.653)(15,.667)(16,.676)(17,.685)(18,.694)(19,.689)(20,.685)(21,.763)(22,.758)(23,.74)(24,.749)(25,.758)(26,.767)(27,.776)(28,.772)(29,.749)(30,.753)(31,.763)(32,.772)(34,.776)(36,.781)(38,.784)(40,.785)(42,.793)(43,.799)(44,.797)(46,.79)(48,.784)(50,.787)(52,.79)(54,.795)(56,.797)(58,.797)(60,.795)(62,.801)(64,.795)(66,.797)(67,.801)(68,.799)(70,.795)(72,.79)(74,.785)(76,.783)(78,.781)(80,.787)}
\panel{1}{5}{34}{noy}{(1,.329)(2,.333)(3,.446)(4,.397)(5,.338)(6,.306)(7,.233)(8,.251)(9,.297)(10,.301)(11,.333)(12,.361)(13,.333)(14,.333)(15,.333)(16,.333)(17,.333)(18,.333)(19,.315)(20,.315)(21,.32)(22,.301)(23,.306)(24,.306)}
{(1,.329)(2,.42)(3,.402)(4,.338)(5,.365)(6,.42)(7,.447)(8,.479)(9,.466)(10,.521)(11,.553)(12,.557)(13,.557)(14,.575)(15,.589)(16,.598)(17,.607)(18,.621)(19,.612)(20,.63)(21,.735)(22,.744)(23,.726)(24,.735)(25,.744)(26,.753)(27,.765)(28,.763)(29,.735)(30,.749)(31,.758)(32,.765)(34,.767)(36,.772)(38,.776)(40,.778)(42,.785)(43,.793)(44,.787)(46,.79)(48,.776)(50,.769)(52,.772)(54,.774)(56,.778)(58,.781)(60,.781)(62,.784)(64,.785)(66,.787)(68,.793)(70,.789)(72,.787)(74,.785)(76,.781)(78,.778)(80,.784)}
% Texts
\node[anchor=base, font=\fontsize{13.2}{15}\selectfont] at (334.3bp,704.9bp) {Experiment 1};
\node[anchor=base, font=\fontsize{11}{13}\selectfont] at (334.3bp,9.4bp) {Trial Number by Condition};
\node[anchor=base, rotate=90, font=\fontsize{11}{13}\selectfont] at (11.9bp,355.4bp) {Cumulative Accuracy};
\node[anchor=base west, inner sep=0pt, font=\fontsize{11}{13}\selectfont] at (648.7bp,372bp) {Contingency};
\end{tikzpicture}
\end{document}
